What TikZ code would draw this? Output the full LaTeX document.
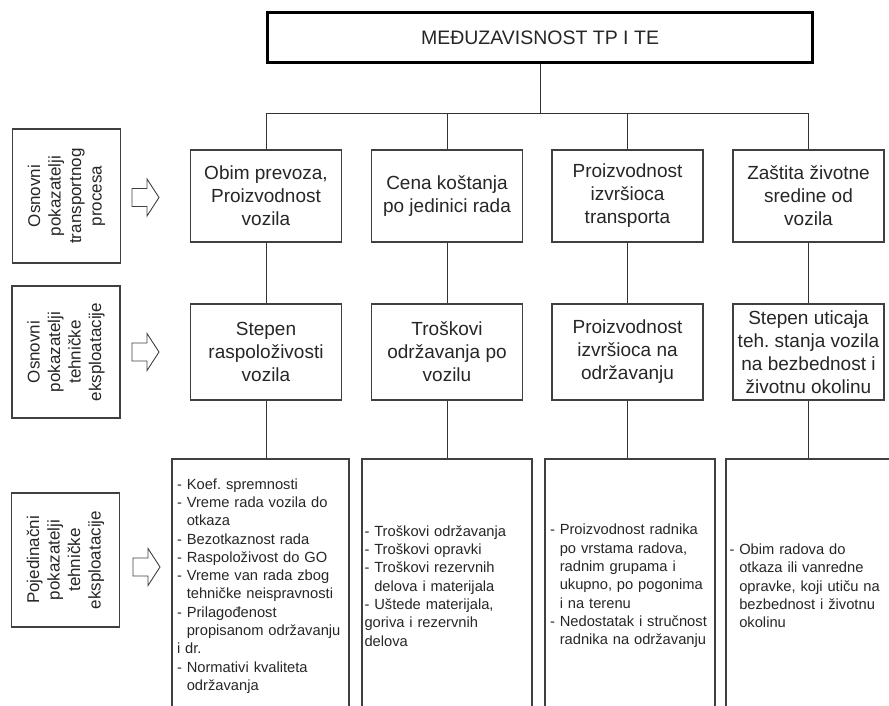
\documentclass[tikz,border=0pt]{standalone}
\usepackage{fontspec}
\setmainfont{Liberation Sans}
\frenchspacing
\newcommand{\ind}{\hphantom{- }}
\begin{document}
\begin{tikzpicture}[x=1pt,y=-1pt]
\tikzset{
  titlebox/.style={draw=black,line width=2.4pt,minimum width=545pt,minimum height=50pt,font=\fontsize{19.5}{23}\selectfont,text=black!85},
  mainbox/.style={draw=black!75,line width=1.1pt,inner sep=2pt,minimum width=151pt,align=center,font=\fontsize{19}{23}\selectfont,text=black!85},
  sidebox/.style={draw=black!75,line width=1.1pt,rotate=90,minimum height=108pt,inner sep=2pt,align=center,font=\fontsize{17}{20.5}\selectfont,text=black!85},
  listbox/.style={draw=black!75,line width=1.1pt,minimum height=254pt,inner ysep=2pt,align=left,font=\fontsize{14.7}{18.3}\selectfont,text=black!85},
  link/.style={draw=black!80,line width=0.9pt},
  arrowline/.style={draw=black!75,line width=0.9pt,line join=miter},
  blockarrow/.pic={\draw[arrowline] (0,-9) -- (15,-9) -- (15,-18.5) -- (27,0) -- (15,18.5) -- (15,9) -- (0,9) -- cycle;}
}
\useasboundingbox (0,0) rectangle (889,706);
\clip (0,0) rectangle (889,706);
% title
\node[titlebox] (n_top) at (540,37.5) {MEĐUZAVISNOST TP I TE};
\coordinate (n_bus) at (540,113);
% side labels
\node[sidebox,minimum width=134pt] (n_lab1) at (66.5,196) {Osnovni\\pokazatelji\\transportnog\\procesa};
\node[sidebox,minimum width=132pt] (n_lab2) at (66,352) {Osnovni\\pokazatelji\\tehničke\\eksploatacije};
\node[sidebox,minimum width=134pt] (n_lab3) at (65.5,560) {Pojedinačni\\pokazatelji\\tehničke\\eksploatacije};
\pic at (132,197.5) {blockarrow};
\pic at (132,352) {blockarrow};
\pic at (133,567) {blockarrow};
% first row
\node[mainbox,minimum height=92pt] (n_tp1) at (266,196) {Obim prevoza,\\Proizvodnost\\vozila};
\node[mainbox,minimum height=92pt] (n_tp2) at (447,196) {Cena koštanja\\po jedinici rada};
\node[mainbox,minimum height=92pt] (n_tp3) at (627.5,196) {Proizvodnost\\izvršioca\\transporta};
\node[mainbox,minimum height=92pt] (n_tp4) at (808.5,196) {Zaštita životne\\sredine od\\vozila};
% second row
\node[mainbox,minimum height=96pt] (n_te1) at (266,352) {Stepen\\raspoloživosti\\vozila};
\node[mainbox,minimum height=96pt] (n_te2) at (447,352) {Troškovi\\održavanja po\\vozilu};
\node[mainbox,minimum height=96pt] (n_te3) at (627.5,352) {Proizvodnost\\izvršioca na\\održavanju};
\node[mainbox,minimum height=96pt] (n_te4) at (808.5,352) {Stepen uticaja\\teh. stanja vozila\\na bezbednost i\\životnu okolinu};
% third row
\node[listbox,inner xsep=5pt,text width=167pt] (n_pe1) at (260.5,586) {- Koef. spremnosti\\- Vreme rada vozila do\\\ind otkaza\\- Bezotkaznost rada\\- Raspoloživost do GO\\- Vreme van rada zbog\\\ind tehničke neispravnosti\\- Prilagođenost\\\ind propisanom održavanju\\i dr.\\- Normativi kvaliteta\\\ind održavanja};
\node[listbox,inner xsep=2.5pt,text width=165pt] (n_pe2) at (447,586) {- Troškovi održavanja\\- Troškovi opravki\\- Troškovi rezervnih\\\ind delova i materijala\\- Uštede materijala,\\goriva i rezervnih\\delova};
\node[listbox,inner xsep=5pt,text width=160pt] (n_pe3) at (630,586) {- Proizvodnost radnika\\\ind po vrstama radova,\\\ind radnim grupama i\\\ind ukupno, po pogonima\\\ind i na terenu\\- Nedostatak i stručnost\\\ind radnika na održavanju};
\node[listbox,inner xsep=3.5pt,text width=167pt] (n_pe4) at (813,586) {- Obim radova do\\\ind otkaza ili vanredne\\\ind opravke, koji utiču na\\\ind bezbednost i životnu\\\ind okolinu};
% connectors
\draw[link] (n_top.south) -- (n_bus);
\foreach \i in {1,...,4} {
  \draw[link] (n_tp\i.north) |- (n_bus);
  \draw[link] (n_tp\i.south) -- (n_te\i.north);
  \draw[link] (n_te\i.south) -- (n_te\i.south |- n_pe\i.north);
}
\end{tikzpicture}
\end{document}
